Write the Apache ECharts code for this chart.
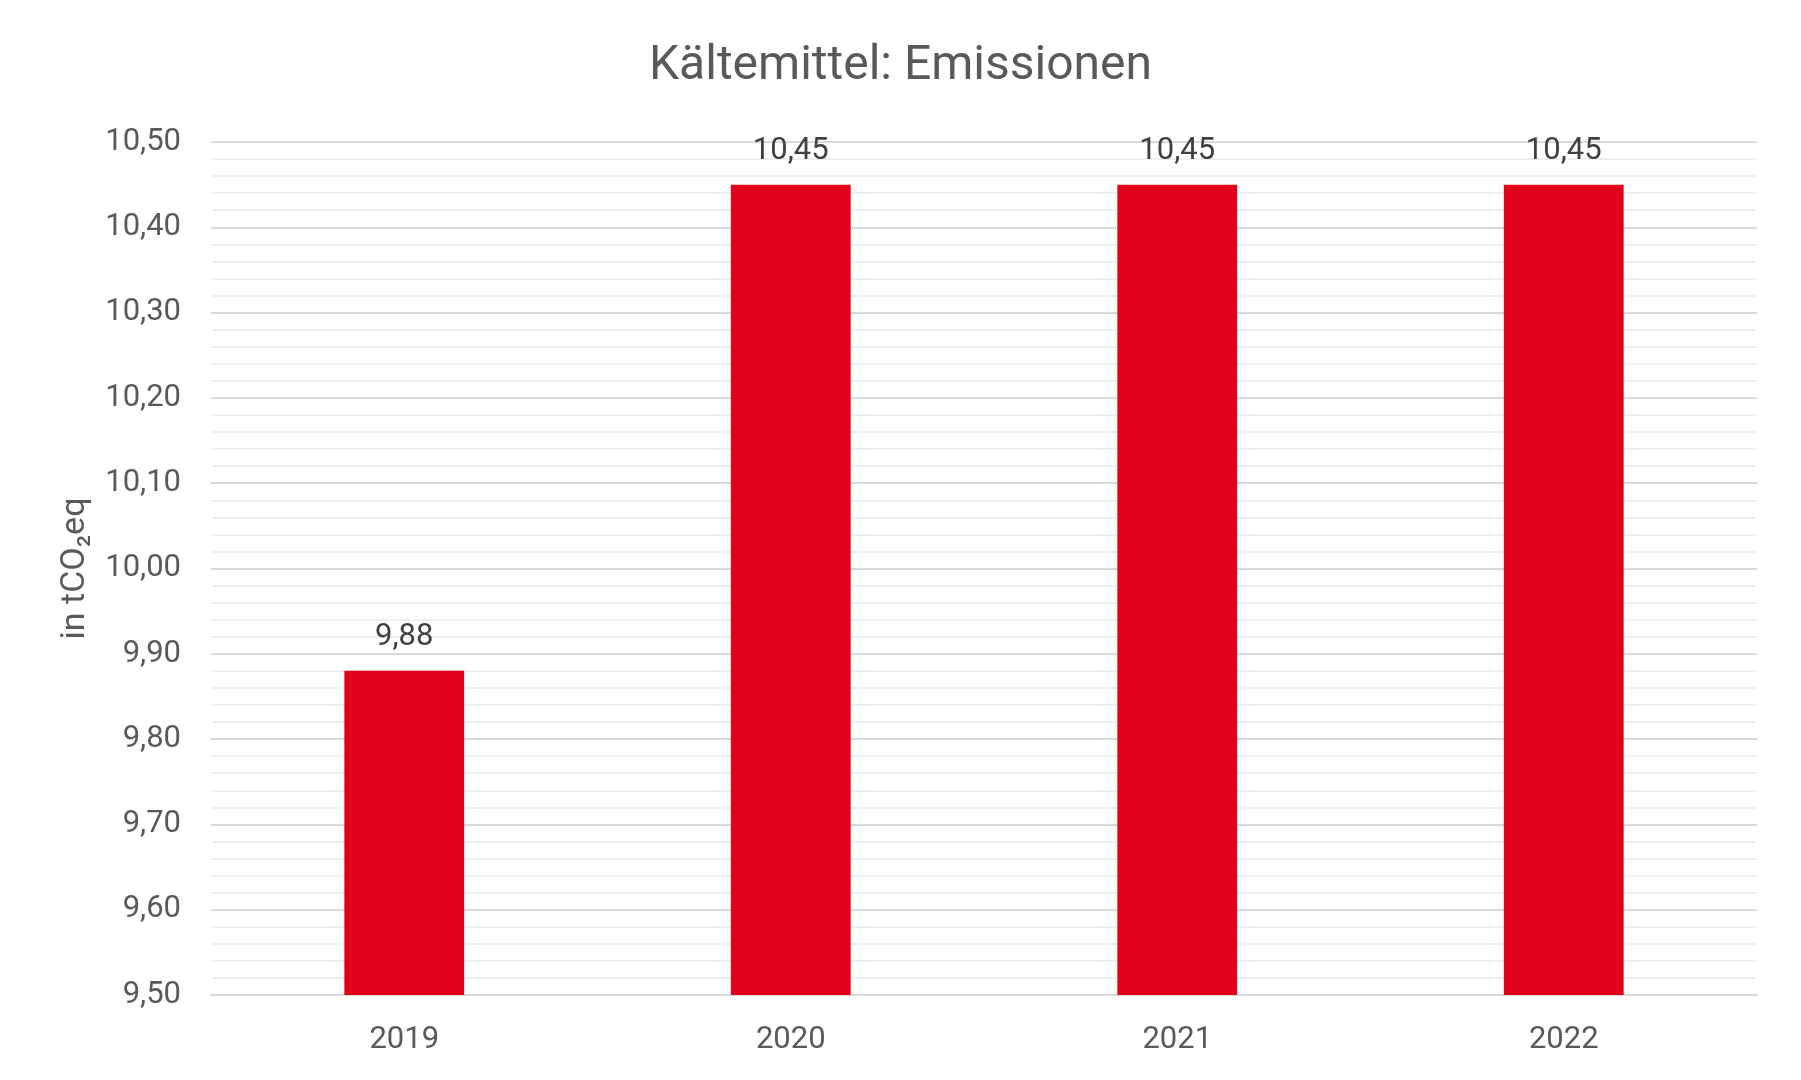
<!DOCTYPE html>
<html><head><meta charset="utf-8">
<script src="https://cdn.jsdelivr.net/npm/echarts@6/dist/echarts.min.js"></script>
<style>html,body{margin:0;padding:0;background:#fff}#c{width:1801px;height:1080px}</style>
</head><body><div id="c"></div>
<script>
const title = 'Kältemittel: Emissionen';
const categories = ['2019', '2020', '2021', '2022'];
const values = [9.88, 10.45, 10.45, 10.45];
const yMin = 9.5, yMax = 10.5, yStep = 0.1;
const axisTitle = 'in tCO₂eq';

const fmt = v => Number(v).toFixed(2).replace('.', ',');
const textColor = '#595959';
const font = 'Roboto';

const chart = echarts.init(document.getElementById('c'));
chart.setOption({
  backgroundColor: '#fff',
  animation: false,
  title: {
    text: title, left: 'center', top: 38,
    textStyle: {fontFamily: font, fontSize: 48, fontWeight: 'normal', color: textColor}
  },
  grid: {left: 211, right: 44, top: 142, bottom: 85, containLabel: false},
  xAxis: {
    type: 'category', data: categories,
    axisLine: {show: true, lineStyle: {color: '#d9d9d9', width: 2}},
    axisTick: {show: false},
    axisLabel: {fontFamily: font, fontSize: 31, color: textColor, margin: 30}
  },
  yAxis: {
    type: 'value', min: yMin, max: yMax, interval: yStep,
    name: axisTitle, nameLocation: 'middle', nameGap: 119, nameRotate: 90,
    nameTextStyle: {fontFamily: font, fontSize: 34, color: textColor},
    axisLine: {show: false}, axisTick: {show: false},
    axisLabel: {fontFamily: font, fontSize: 31, color: textColor, margin: 30, formatter: fmt},
    splitLine: {lineStyle: {color: '#d9d9d9', width: 2}},
    minorTick: {show: false, splitNumber: 5},
    minorSplitLine: {show: true, lineStyle: {color: '#efefef', width: 2}}
  },
  series: [{
    type: 'bar', data: values, barWidth: '31%',
    itemStyle: {color: '#e2001a'},
    label: {show: true, position: 'top', distance: 18, formatter: p => fmt(p.value),
      fontFamily: font, fontSize: 31, color: '#404040'}
  }]
});
</script></body></html>
